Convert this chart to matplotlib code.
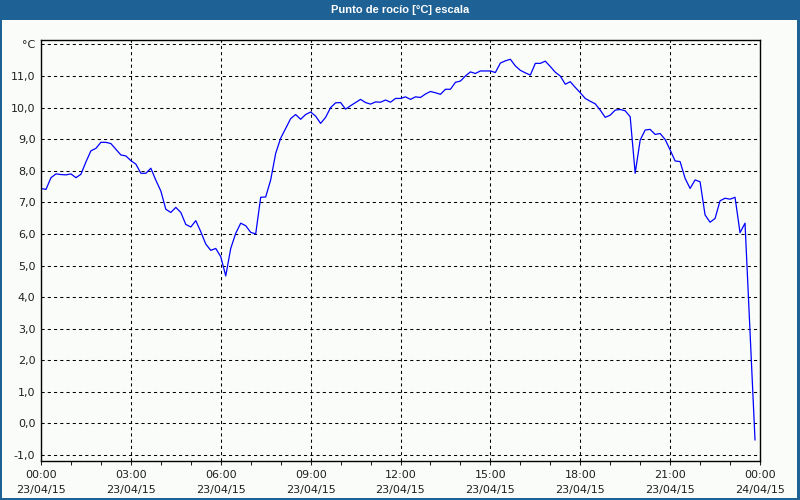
import matplotlib
matplotlib.use("Agg")
import matplotlib.pyplot as plt
import matplotlib.dates as mdates
from matplotlib.patches import Rectangle
import pandas as pd

# dew point readings, one every 10 minutes from 23/04/15 00:00
dew_point = [
    7.44, 7.41, 7.78, 7.90, 7.88, 7.87,
    7.90, 7.78, 7.89, 8.28, 8.63, 8.71,
    8.90, 8.90, 8.86, 8.68, 8.50, 8.47,
    8.32, 8.21, 7.92, 7.92, 8.08, 7.70,
    7.36, 6.78, 6.68, 6.84, 6.68, 6.30,
    6.22, 6.42, 6.07, 5.68, 5.48, 5.54,
    5.28, 4.67, 5.54, 6.02, 6.34, 6.26,
    6.05, 6.00, 7.16, 7.17, 7.71, 8.55,
    9.03, 9.34, 9.65, 9.78, 9.63, 9.78,
    9.86, 9.73, 9.50, 9.69, 10.00, 10.15,
    10.16, 9.95, 10.06, 10.16, 10.26, 10.16,
    10.11, 10.18, 10.17, 10.24, 10.17, 10.29,
    10.29, 10.34, 10.26, 10.34, 10.32, 10.43,
    10.51, 10.47, 10.42, 10.58, 10.58, 10.80,
    10.84, 11.00, 11.13, 11.08, 11.16, 11.16,
    11.16, 11.11, 11.41, 11.48, 11.53, 11.32,
    11.18, 11.10, 11.03, 11.40, 11.40, 11.47,
    11.30, 11.12, 11.00, 10.74, 10.82, 10.64,
    10.47, 10.29, 10.20, 10.12, 9.92, 9.69,
    9.76, 9.92, 9.94, 9.90, 9.71, 7.92,
    8.97, 9.29, 9.31, 9.15, 9.18, 8.99,
    8.66, 8.31, 8.29, 7.76, 7.44, 7.71,
    7.65, 6.60, 6.37, 6.49, 7.05, 7.13,
    7.10, 7.16, 6.04, 6.34, 2.90, -0.52,
]
times = pd.date_range("2015-04-23 00:00", periods=len(dew_point), freq="10min")

y_ticks = list(range(-1, 13))
y_labels = [f"{v},0" for v in y_ticks[:-1]] + ["°C"]

title = "Punto de rocío [°C] escala"
bg = "#fafcfa"
bar_blue = "#1e6195"

fig = plt.figure(figsize=(8, 5), dpi=100, facecolor=bg)

# window title bar and border
fig.patches.append(Rectangle((0, 480 / 500), 1, 20 / 500, transform=fig.transFigure,
                             facecolor=bar_blue, edgecolor="none", zorder=0))
fig.patches.append(Rectangle((0, 0), 2 / 800, 1, transform=fig.transFigure,
                             facecolor=bar_blue, edgecolor="none", zorder=0))
fig.patches.append(Rectangle((797 / 800, 0), 3 / 800, 1, transform=fig.transFigure,
                             facecolor=bar_blue, edgecolor="none", zorder=0))
fig.patches.append(Rectangle((0, 0), 1, 2 / 500, transform=fig.transFigure,
                             facecolor=bar_blue, edgecolor="none", zorder=0))
fig.text(0.5, 490 / 500, title, color="white", fontsize=8, fontweight="bold",
         family="Liberation Sans", ha="center", va="center")

ax = fig.add_axes([41 / 800, 1 - 460.7 / 500, 719 / 800, 420.7 / 500])
ax.set_facecolor(bg)

ax.plot(times, dew_point, color="#0000ff", lw=0.9)

ax.set_xlim(pd.Timestamp("2015-04-23 00:00"), pd.Timestamp("2015-04-24 00:00"))
ax.set_ylim(-1.18, 12.14)

ax.xaxis.set_major_locator(mdates.HourLocator(interval=3))
ax.xaxis.set_minor_locator(mdates.HourLocator())
ax.xaxis.set_major_formatter(mdates.DateFormatter("%H:%M\n%d/%m/%y"))
ax.set_yticks(y_ticks)
ax.set_yticklabels(y_labels)

ax.grid(True, which="major", color="black", linestyle=(0, (3, 3)), lw=0.75)
ax.tick_params(axis="x", which="both", direction="out", length=3, width=0.75,
               labelsize=8, colors="#202020", pad=4)
ax.tick_params(axis="y", length=0, labelsize=8, colors="#202020", pad=4)
for lbl in ax.get_xticklabels():
    lbl.set_linespacing(1.6)
for sp in ax.spines.values():
    sp.set_color("black")
    sp.set_linewidth(1.0)

fig.savefig("out.png", dpi=100, facecolor=bg)
